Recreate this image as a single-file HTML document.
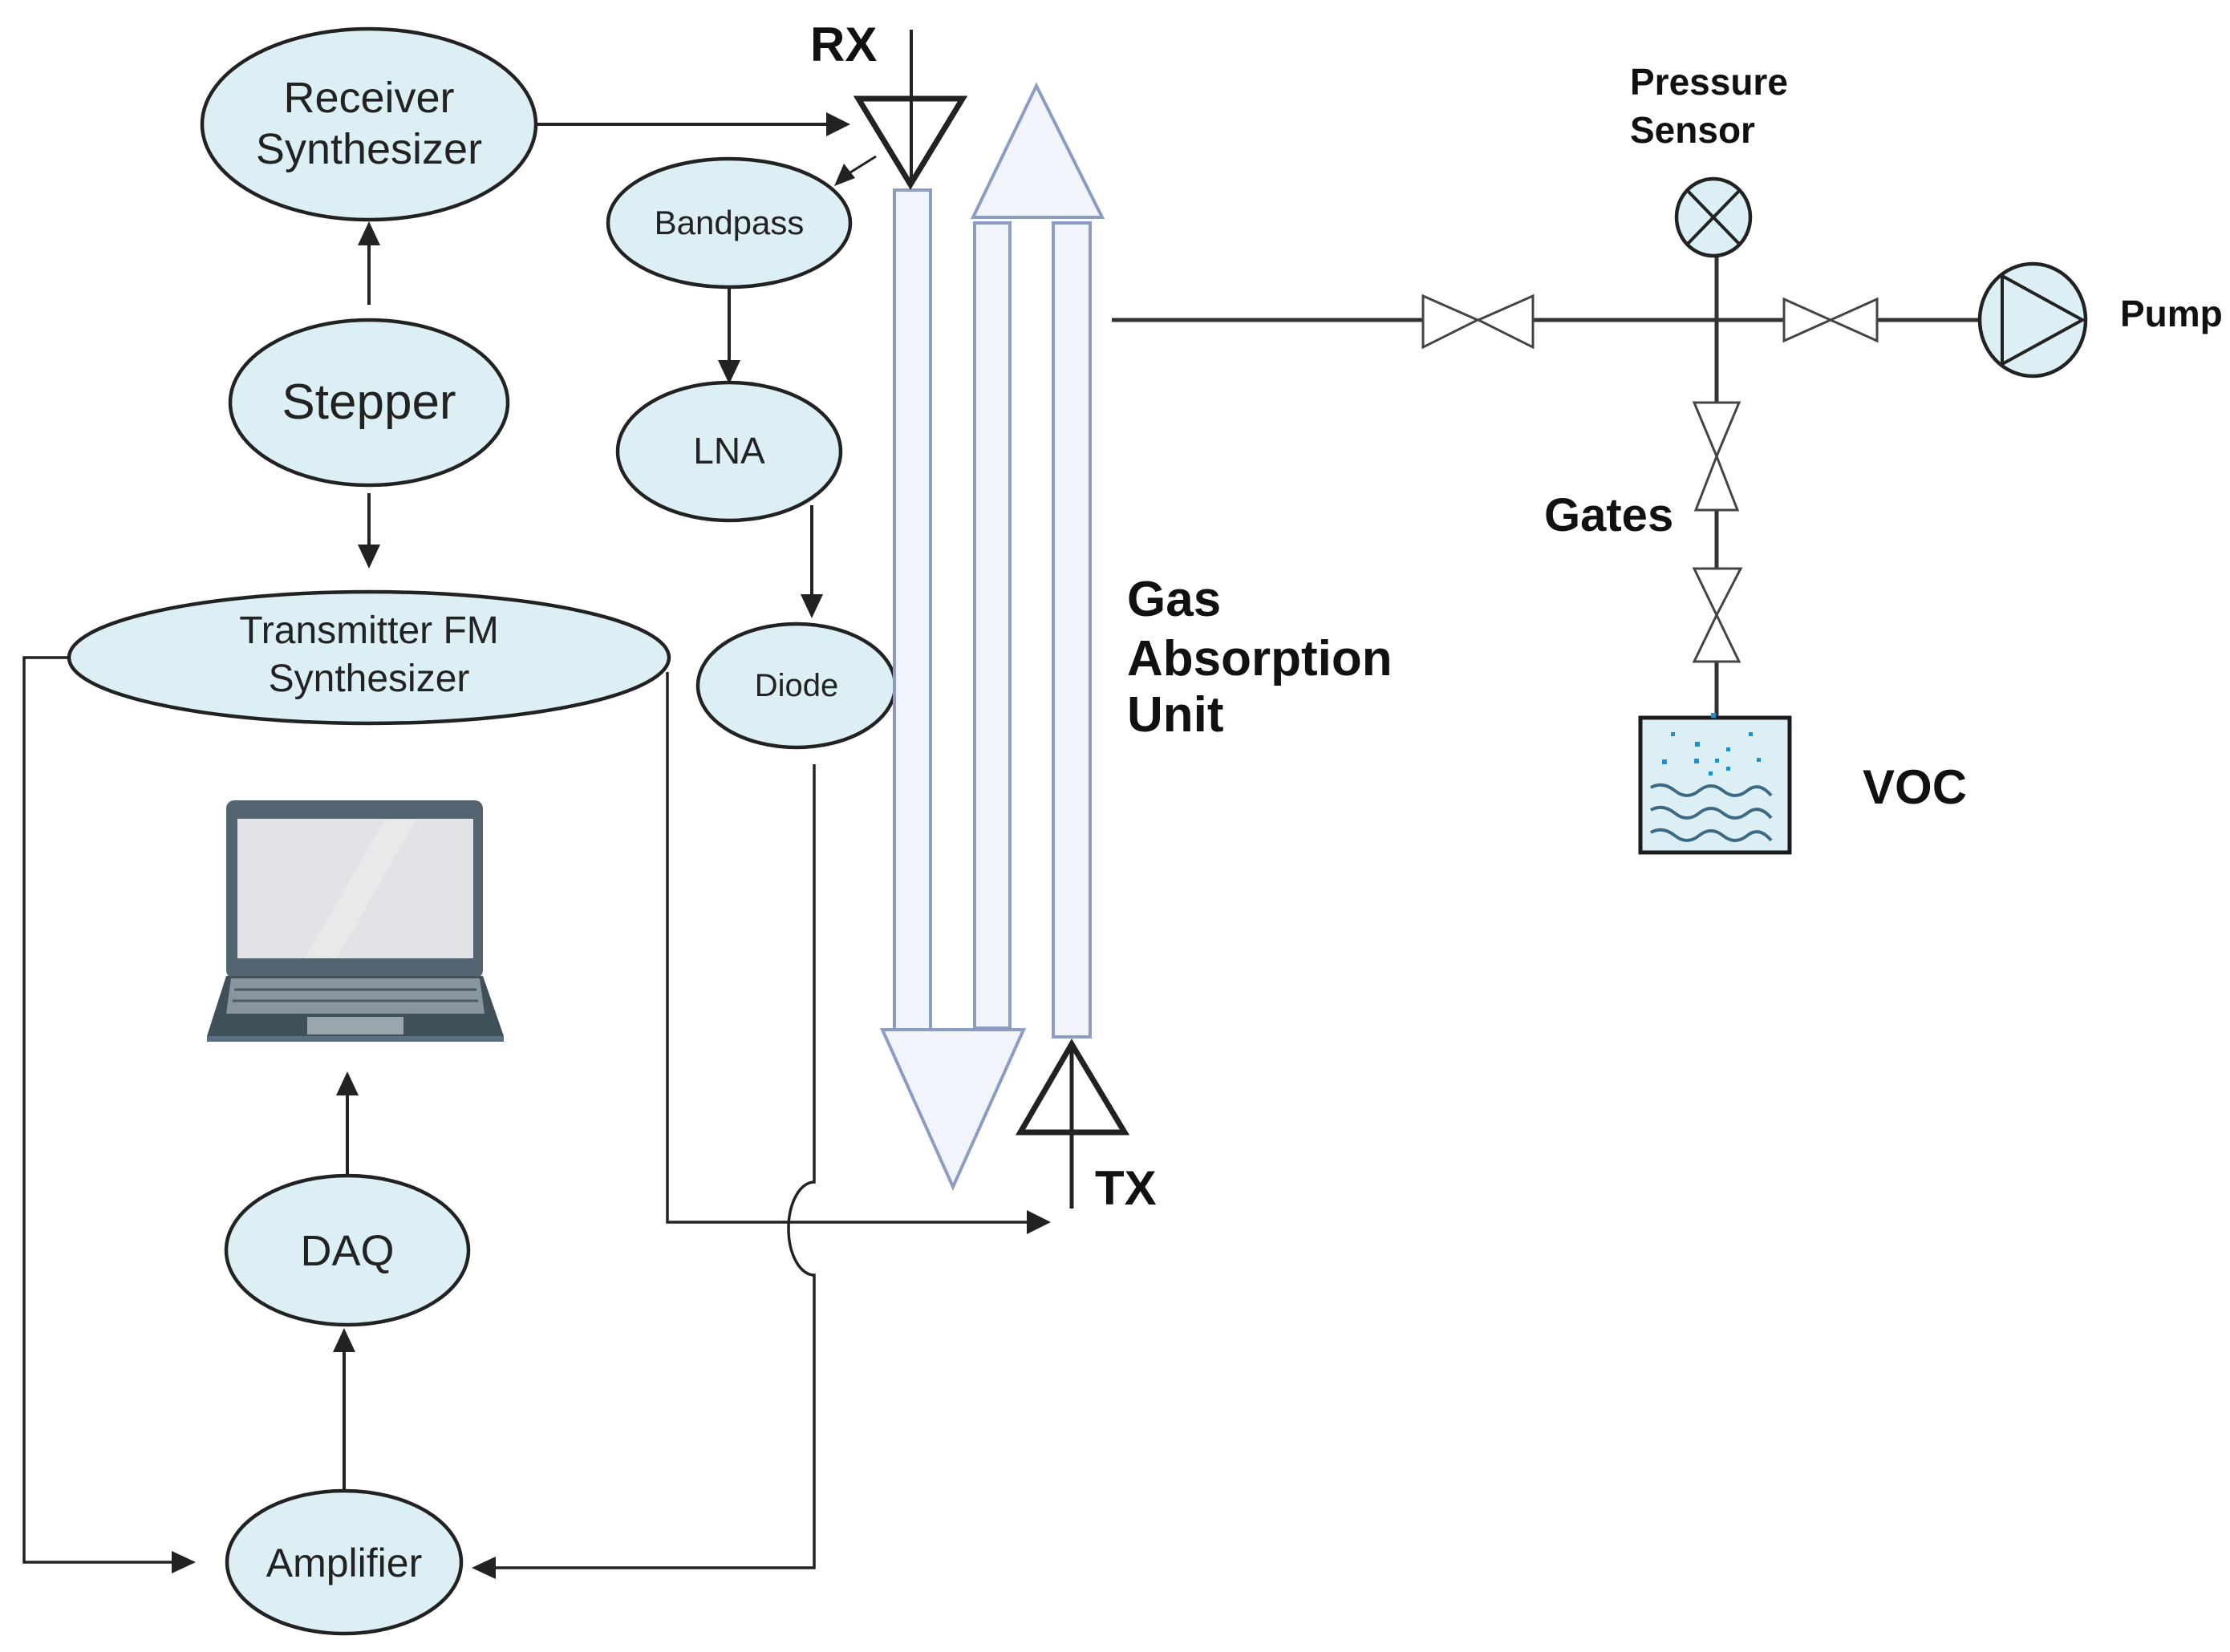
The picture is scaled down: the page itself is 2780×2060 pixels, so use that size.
<!DOCTYPE html>
<html><head><meta charset="utf-8"><style>
html,body{margin:0;padding:0;background:#fff;}
svg{display:block;}
.t{font-family:"Liberation Sans Narrow","Liberation Sans",sans-serif;fill:#222;}
.b{font-family:"Liberation Sans",sans-serif;font-weight:bold;fill:#111;}
</style></head><body>
<svg width="2780" height="2060" viewBox="0 0 2780 2060" xmlns="http://www.w3.org/2000/svg">
<defs>
<marker id="ah" markerWidth="10" markerHeight="10" refX="9" refY="5" orient="auto" markerUnits="userSpaceOnUse" viewBox="0 0 10 10" >
<path d="M0,0 L10,5 L0,10 z" fill="#222"/>
</marker>
</defs>
<g fill="none" stroke="#222" stroke-width="4">
<!-- connectors -->
<line x1="668" y1="155" x2="1030" y2="155"/>
<path d="M1030,140 L1060,155 L1030,170 z" fill="#222" stroke="none"/>
<line x1="1092" y1="195" x2="1060" y2="215" stroke-width="3"/>
<path d="M1040,232 L1052,204 L1066,222 z" fill="#222" stroke="none"/>
<line x1="460" y1="380" x2="460" y2="305"/>
<path d="M446,306 L460,276 L474,306 z" fill="#222" stroke="none"/>
<line x1="460" y1="615" x2="460" y2="680"/>
<path d="M446,679 L460,709 L474,679 z" fill="#222" stroke="none"/>
<line x1="909" y1="358" x2="909" y2="450"/>
<path d="M895,449 L909,479 L923,449 z" fill="#222" stroke="none"/>
<line x1="1012" y1="630" x2="1012" y2="742"/>
<path d="M998,741 L1012,771 L1026,741 z" fill="#222" stroke="none"/>
<!-- transmitter left loop -->
<polyline points="84,820 30,820 30,1948 216,1948" stroke-width="3.5"/>
<path d="M214,1934 L244,1948 L214,1962 z" fill="#222" stroke="none"/>
<!-- transmitter right -->
<polyline points="832,838 832,1524 1282,1524" stroke-width="3.5"/>
<path d="M1280,1509 L1310,1524 L1280,1539 z" fill="#222" stroke="none"/>
<!-- diode to amplifier with hop -->
<path d="M1015,953 L1015,1474 A32,58 0 0 0 1015,1590 L1015,1955 L616,1955" stroke-width="3.5"/>
<path d="M618,1941 L588,1955 L618,1969 z" fill="#222" stroke="none"/>
<!-- DAQ to laptop, amp to DAQ -->
<line x1="433" y1="1467" x2="433" y2="1365"/>
<path d="M419,1366 L433,1336 L447,1366 z" fill="#222" stroke="none"/>
<line x1="429" y1="1859" x2="429" y2="1685"/>
<path d="M415,1686 L429,1656 L443,1686 z" fill="#222" stroke="none"/>
</g>
<!-- ellipses -->
<g fill="#dceff4" stroke="#222" stroke-width="4.5">
<ellipse cx="460" cy="155" rx="208" ry="119"/>
<ellipse cx="460" cy="502" rx="173" ry="103"/>
<ellipse cx="460" cy="820" rx="374" ry="82"/>
<ellipse cx="909" cy="278" rx="151" ry="80"/>
<ellipse cx="909" cy="563" rx="139" ry="86"/>
<ellipse cx="993" cy="855" rx="123" ry="77"/>
<ellipse cx="433" cy="1559" rx="151" ry="93"/>
<ellipse cx="429" cy="1948" rx="146" ry="89"/>
</g>
<g class="t" text-anchor="middle">
<text x="460" y="140" font-size="54">Receiver</text>
<text x="460" y="204" font-size="54">Synthesizer</text>
<text x="460" y="522" font-size="62">Stepper</text>
<text x="460" y="802" font-size="48">Transmitter FM</text>
<text x="460" y="862" font-size="48">Synthesizer</text>
<text x="909" y="292" font-size="42">Bandpass</text>
<text x="909" y="578" font-size="46">LNA</text>
<text x="993" y="868" font-size="40">Diode</text>
<text x="433" y="1578" font-size="54">DAQ</text>
<text x="429" y="1966" font-size="50">Amplifier</text>
</g>
<!-- laptop -->
<g>
<rect x="282" y="998" width="320" height="222" rx="10" fill="#51646f"/>
<rect x="296" y="1021" width="294" height="174" fill="#e0e2e5"/>
<polygon points="380,1195 480,1021 520,1021 420,1195" fill="#e8e9eb"/>
<polygon points="282,1217 602,1217 628,1292 258,1292" fill="#3f505b"/>
<polygon points="288,1220 598,1220 604,1264 282,1264" fill="#8796a0"/>
<g stroke="#4a5a64" stroke-width="3">
<line x1="292" y1="1234" x2="594" y2="1234"/>
<line x1="290" y1="1248" x2="596" y2="1248"/>
</g>
<rect x="383" y="1268" width="120" height="22" fill="#9aa6ad"/>
<rect x="258" y="1292" width="370" height="7" fill="#5a7080"/>
</g>
<!-- tubes -->
<g fill="#f1f5fb" stroke="#8c9cc2" stroke-width="4">
<rect x="1115" y="237" width="45" height="1047"/>
<rect x="1215" y="278" width="44" height="1004"/>
<rect x="1313" y="278" width="46" height="1015"/>
<polygon points="1100,1284 1276,1284 1188,1480"/>
<polygon points="1213,271 1374,271 1292,107"/>
</g>
<!-- antennas -->
<g fill="none" stroke="#222" stroke-width="6">
<polygon points="1070,123 1200,123 1135,230" stroke-width="7"/>
<line x1="1136" y1="37" x2="1136" y2="232" stroke-width="4"/>
<polygon points="1272,1412 1402,1412 1336,1302" stroke-width="7"/>
<line x1="1336" y1="1300" x2="1336" y2="1507" stroke-width="5"/>
</g>
<text class="b" x="1010" y="76" font-size="60">RX</text>
<text class="b" x="1365" y="1502" font-size="60">TX</text>
<g class="b" font-size="62">
<text x="1405" y="768">Gas</text>
<text x="1405" y="842">Absorption</text>
<text x="1405" y="912">Unit</text>
</g>
<!-- gas line -->
<g stroke="#333" stroke-width="5" fill="none">
<line x1="1386" y1="399" x2="1773" y2="399"/>
<line x1="1912" y1="399" x2="2224" y2="399"/>
<line x1="2340" y1="399" x2="2468" y2="399"/>
<line x1="2140" y1="318" x2="2140" y2="502"/>
<line x1="2140" y1="636" x2="2140" y2="709"/>
<line x1="2140" y1="825" x2="2140" y2="894"/>
</g>
<g fill="#fff" stroke="#444" stroke-width="3">
<polygon points="1774,369 1842,399 1774,433"/>
<polygon points="1911,369 1843,399 1911,433"/>
<polygon points="2224,373 2282,399 2224,425"/>
<polygon points="2340,373 2282,399 2340,425"/>
<polygon points="2112,502 2168,502 2140,569"/>
<polygon points="2114,636 2166,636 2140,569"/>
<polygon points="2112,709 2170,709 2140,767"/>
<polygon points="2112,825 2168,825 2140,767"/>
</g>
<!-- pressure sensor -->
<ellipse cx="2136" cy="271" rx="46" ry="48" fill="#dceff4" stroke="#222" stroke-width="4.5"/>
<g stroke="#222" stroke-width="4"><line x1="2104" y1="238" x2="2168" y2="304"/><line x1="2168" y1="238" x2="2104" y2="304"/></g>
<!-- pump -->
<ellipse cx="2534" cy="399" rx="66" ry="70" fill="#dceff4" stroke="#222" stroke-width="4.5"/>
<polygon points="2496,344 2596,399 2496,454" fill="none" stroke="#222" stroke-width="4"/>
<g class="b" font-size="46">
<text x="2032" y="118">Pressure</text>
<text x="2032" y="178">Sensor</text>
<text x="2643" y="407">Pump</text>
</g>
<text class="b" x="1925" y="662" font-size="58">Gates</text>
<text class="b" x="2322" y="1002" font-size="60">VOC</text>
<!-- VOC box -->
<rect x="2045" y="895" width="186" height="168" fill="#dceff4" stroke="#1c1c1c" stroke-width="5"/>
<g fill="none" stroke="#3c6a85" stroke-width="4">
<path d="M2058,982 q15,-8 30,4 t30,0 t30,0 t30,0 t30,6"/>
<path d="M2058,1010 q15,-8 30,4 t30,0 t30,0 t30,0 t30,6"/>
<path d="M2058,1038 q15,-8 30,4 t30,0 t30,0 t30,0 t30,6"/>
</g>
<g fill="#1e8fc8">
<rect x="2083" y="913" width="5" height="5"/><rect x="2113" y="925" width="6" height="6"/>
<rect x="2133" y="889" width="6" height="6"/><rect x="2180" y="913" width="5" height="5"/>
<rect x="2152" y="932" width="5" height="5"/><rect x="2072" y="947" width="6" height="6"/>
<rect x="2112" y="946" width="6" height="6"/><rect x="2138" y="946" width="5" height="5"/>
<rect x="2190" y="945" width="5" height="5"/><rect x="2152" y="956" width="5" height="5"/>
<rect x="2130" y="962" width="5" height="5"/>
</g>
</svg>
</body></html>
